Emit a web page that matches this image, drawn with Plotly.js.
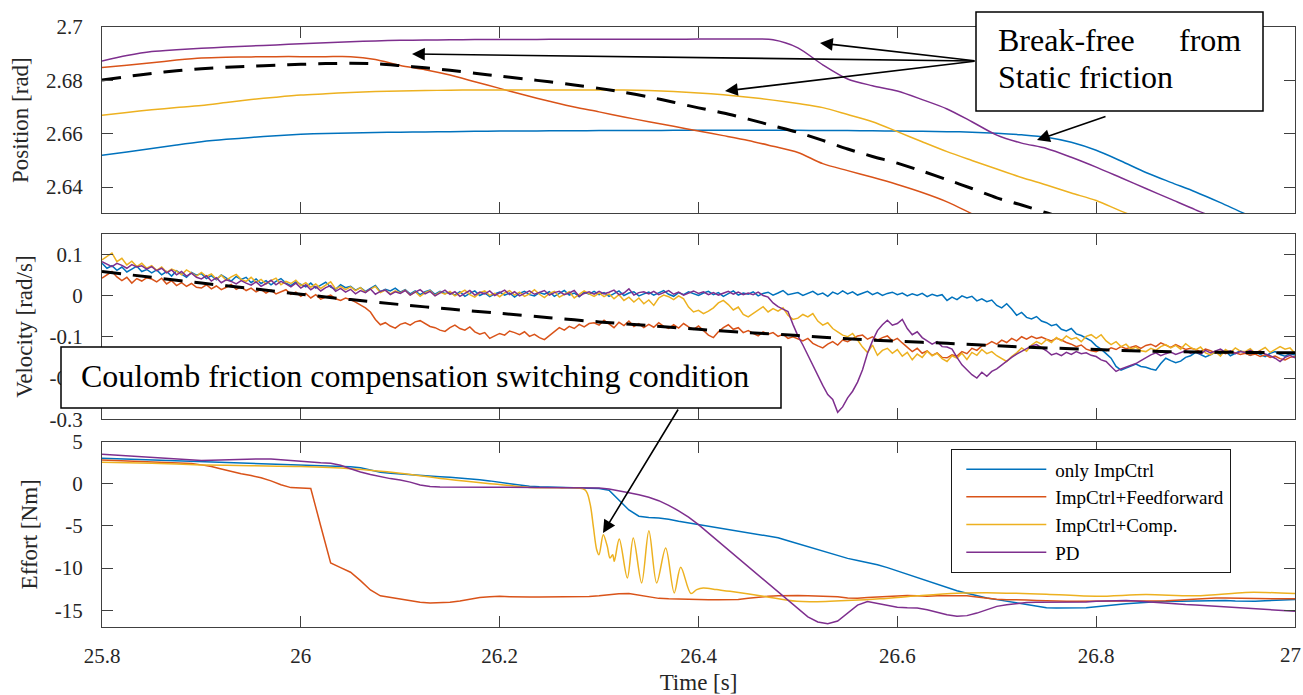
<!DOCTYPE html>
<html><head><meta charset="utf-8">
<script src="https://cdn.plot.ly/plotly-3.0.1.min.js"></script>
<style>html,body{margin:0;padding:0;background:#fff}#chart{width:1303px;height:695px}</style>
</head><body><div id="chart"></div>
<script>
// ---------- labels ----------
const seriesNames = ['only ImpCtrl', 'ImpCtrl+Feedforward', 'ImpCtrl+Comp.', 'PD'];
const seriesColors = ['#0072BD', '#D95319', '#EDB120', '#7E2F8E'];
const xTickVals = [25.8, 26, 26.2, 26.4, 26.6, 26.8, 27];
const xTickText = ['25.8', '26', '26.2', '26.4', '26.6', '26.8', ''];
const xLastTickLabel = '27';
const posTickVals = [2.64, 2.66, 2.68, 2.7];
const posTickText = ['2.64', '2.66', '2.68', '2.7'];
const velTickVals = [-0.3, -0.2, -0.1, 0, 0.1];
const velTickText = ['-0.3', '-0.2', '-0.1', '0', '0.1'];
const effTickVals = [-15, -10, -5, 0, 5];
const effTickText = ['-15', '-10', '-5', '0', '5'];

// sample instants (uniform sampling grids)
function grid(start, step, n) { const a = []; for (let i = 0; i < n; i++) a.push(+(start + step * i).toFixed(4)); return a; }
const posTime = grid(25.8, 0.025, 49);
const velTime = grid(25.8, 0.005, 241);
const effTime = grid(25.8, 0.01, 121);
const velRefTime = grid(25.8, 0.05, 25);

// ---------- Position [rad] ----------
const posBlue = [2.6519,2.6532,2.6545,2.6558,2.6570,2.6579,2.6586,2.6593,2.6598,2.6601,2.6603,2.6605,2.6606,2.6607,2.6608,2.6609,2.6610,2.6610,2.6611,2.6611,2.6612,2.6612,2.6612,2.6613,2.6613,2.6613,2.6613,2.6613,2.6613,2.6612,2.6612,2.6611,2.6610,2.6609,2.6608,2.6606,2.6602,2.6596,2.6587,2.6568,2.6538,2.6498,2.6455,2.6418,2.6382,2.6342,2.6300,2.6262,2.6225];
const posOrange = [2.6848,2.6857,2.6866,2.6876,2.6884,2.6887,2.6888,2.6889,2.6889,2.6889,2.6889,2.6878,2.6856,2.6840,2.6820,2.6795,2.6770,2.6745,2.6722,2.6700,2.6682,2.6663,2.6645,2.6628,2.6610,2.6593,2.6575,2.6553,2.6530,2.6488,2.6462,2.6437,2.6410,2.6380,2.6345,2.6300,2.6255,2.6210,2.6165,2.6120,2.6075,2.6030,2.5985,2.5940,2.5895,2.5850,2.5805,2.5760,2.5715];
const posYellow = [2.6669,2.6680,2.6690,2.6698,2.6706,2.6717,2.6728,2.6737,2.6745,2.6750,2.6755,2.6758,2.6760,2.6762,2.6763,2.6764,2.6764,2.6764,2.6764,2.6764,2.6764,2.6764,2.6762,2.6758,2.6753,2.6746,2.6737,2.6726,2.6713,2.6698,2.6672,2.6645,2.6608,2.6570,2.6533,2.6500,2.6468,2.6436,2.6408,2.6378,2.6350,2.6310,2.6275,2.6245,2.6215,2.6185,2.6155,2.6125,2.6095];
const posPurple = [2.6873,2.6893,2.6908,2.6915,2.6920,2.6925,2.6929,2.6933,2.6937,2.6941,2.6945,2.6948,2.6950,2.6951,2.6952,2.6953,2.6953,2.6953,2.6954,2.6954,2.6954,2.6954,2.6954,2.6954,2.6955,2.6955,2.6955,2.6952,2.6922,2.6858,2.6805,2.6780,2.6760,2.6728,2.6693,2.6645,2.6595,2.6565,2.6545,2.6512,2.6475,2.6435,2.6395,2.6355,2.6315,2.6278,2.6240,2.6205,2.6170];
const posRef = [2.6801,2.6814,2.6826,2.6836,2.6844,2.6849,2.6853,2.6857,2.6860,2.6863,2.6864,2.6862,2.6855,2.6847,2.6838,2.6827,2.6816,2.6805,2.6795,2.6783,2.6770,2.6755,2.6738,2.6718,2.6697,2.6678,2.6655,2.6630,2.6605,2.6575,2.6543,2.6515,2.6490,2.6460,2.6428,2.6395,2.6360,2.6333,2.6304,2.6275,2.6245,2.6215,2.6185,2.6155,2.6125,2.6095,2.6065,2.6035,2.6005];

// ---------- Velocity [rad/s] ----------
const velBlue = [
0.078,0.066,0.072,0.061,0.069,0.057,0.064,0.071,0.058,0.063,
0.055,0.062,0.050,0.058,0.047,0.060,0.052,0.044,0.056,0.049,
0.053,0.041,0.048,0.038,0.050,0.043,0.035,0.046,0.039,0.044,
0.031,0.040,0.029,0.036,0.026,0.034,0.041,0.030,0.024,0.033,
0.027,0.021,0.030,0.018,0.025,0.032,0.020,0.015,0.026,0.019,
0.022,0.013,0.019,0.010,0.017,0.024,0.009,0.015,0.011,0.018,
0.008,0.014,0.004,0.011,0.002,0.009,0.013,0.003,0.010,0.005,
0.007,0.001,0.009,-0.002,0.005,0.011,0.000,0.006,-0.003,0.004,
0.008,0.001,0.006,-0.004,0.005,0.010,0.002,-0.001,0.007,0.003,
0.009,-0.002,0.005,0.012,0.001,0.006,-0.003,0.008,0.003,0.010,
0.002,0.007,-0.002,0.005,0.011,0.000,0.006,0.009,-0.001,0.004,
0.008,0.001,0.006,0.012,0.003,-0.002,0.007,0.002,0.009,0.004,
0.000,0.006,0.010,0.002,0.007,-0.002,0.005,0.011,0.001,0.006,
0.003,0.009,-0.001,0.005,0.008,0.001,0.006,0.012,0.002,0.004,
0.007,0.000,0.005,0.010,0.002,0.006,-0.002,0.008,0.003,0.011,
0.004,0.009,0.001,0.006,0.010,0.002,0.007,0.000,0.005,0.008,
0.002,0.006,-0.001,0.004,0.000,0.005,-0.003,0.003,-0.001,0.002,
-0.012,-0.004,-0.010,-0.001,-0.006,-0.002,-0.013,-0.008,-0.015,-0.011,
-0.024,-0.030,-0.020,-0.033,-0.048,-0.041,-0.053,-0.057,-0.051,-0.062,
-0.066,-0.073,-0.070,-0.082,-0.086,-0.080,-0.093,-0.097,-0.104,-0.110,
-0.122,-0.130,-0.141,-0.152,-0.172,-0.181,-0.176,-0.170,-0.166,-0.172,
-0.174,-0.178,-0.181,-0.165,-0.152,-0.158,-0.163,-0.159,-0.150,-0.146,
-0.138,-0.143,-0.149,-0.144,-0.137,-0.142,-0.135,-0.146,-0.140,-0.134,
-0.139,-0.145,-0.137,-0.142,-0.148,-0.140,-0.136,-0.143,-0.147,-0.141,
-0.144];
const velOrange = [
0.042,0.050,0.058,0.045,0.036,0.044,0.030,0.041,0.035,0.043,
0.040,0.033,0.042,0.028,0.036,0.024,0.031,0.022,0.029,0.020,
0.018,0.026,0.016,0.023,0.014,0.020,0.027,0.015,0.021,0.012,
0.018,0.009,0.015,0.006,0.013,0.004,0.010,0.014,0.003,0.008,
-0.002,0.005,-0.006,0.002,-0.009,-0.003,0.001,-0.008,-0.012,-0.006,
-0.010,-0.016,-0.022,-0.030,-0.040,-0.058,-0.071,-0.066,-0.074,-0.079,
-0.070,-0.066,-0.072,-0.064,-0.061,-0.069,-0.075,-0.078,-0.084,-0.087,
-0.078,-0.072,-0.080,-0.084,-0.076,-0.088,-0.094,-0.090,-0.104,-0.098,
-0.092,-0.096,-0.086,-0.090,-0.095,-0.088,-0.099,-0.094,-0.102,-0.107,
-0.098,-0.088,-0.078,-0.084,-0.075,-0.080,-0.070,-0.076,-0.068,-0.066,
-0.072,-0.060,-0.070,-0.078,-0.065,-0.073,-0.062,-0.075,-0.068,-0.078,
-0.070,-0.077,-0.066,-0.075,-0.080,-0.071,-0.079,-0.068,-0.076,-0.082,
-0.074,-0.085,-0.096,-0.102,-0.088,-0.078,-0.071,-0.082,-0.078,-0.090,
-0.085,-0.092,-0.098,-0.088,-0.094,-0.090,-0.099,-0.094,-0.104,-0.100,
-0.106,-0.110,-0.104,-0.116,-0.122,-0.127,-0.118,-0.112,-0.120,-0.108,
-0.112,-0.104,-0.098,-0.096,-0.106,-0.100,-0.108,-0.102,-0.098,-0.110,
-0.104,-0.115,-0.125,-0.136,-0.128,-0.140,-0.134,-0.145,-0.139,-0.150,
-0.151,-0.144,-0.147,-0.136,-0.141,-0.128,-0.133,-0.122,-0.119,-0.112,
-0.118,-0.108,-0.114,-0.104,-0.110,-0.100,-0.106,-0.099,-0.104,-0.101,
-0.106,-0.110,-0.104,-0.108,-0.114,-0.118,-0.124,-0.120,-0.130,-0.134,
-0.136,-0.130,-0.134,-0.127,-0.131,-0.124,-0.129,-0.126,-0.122,-0.128,
-0.121,-0.118,-0.124,-0.115,-0.120,-0.126,-0.119,-0.125,-0.131,-0.128,
-0.131,-0.136,-0.130,-0.134,-0.139,-0.135,-0.141,-0.137,-0.139,-0.143,
-0.140,-0.145,-0.142,-0.148,-0.144,-0.150,-0.147,-0.153,-0.156,-0.150,
-0.148];
const velYellow = [
0.086,0.095,0.103,0.082,0.090,0.074,0.083,0.070,0.078,0.066,
0.072,0.061,0.069,0.056,0.064,0.059,0.050,0.062,0.054,0.047,
0.056,0.046,0.052,0.040,0.049,0.037,0.045,0.051,0.039,0.034,
0.044,0.032,0.039,0.028,0.036,0.042,0.026,0.034,0.029,0.037,
0.024,0.031,0.020,0.028,0.017,0.025,0.033,0.016,0.022,0.014,
0.021,0.012,0.019,0.008,0.016,0.022,0.007,0.013,0.004,0.011,
0.006,0.013,0.001,0.009,-0.002,0.007,0.012,0.000,0.008,0.003,
0.010,-0.001,0.006,0.013,0.002,-0.004,0.007,0.011,0.000,0.005,
-0.003,0.006,0.012,0.001,0.008,-0.002,0.004,0.014,0.003,-0.005,
0.005,0.010,-0.004,0.003,0.009,-0.006,0.002,0.011,0.004,-0.002,
0.006,-0.003,0.004,-0.008,0.002,-0.012,-0.004,-0.016,-0.006,-0.020,
-0.011,-0.024,-0.006,0.001,-0.003,-0.010,-0.001,-0.008,-0.028,-0.040,
-0.036,-0.044,-0.038,-0.030,-0.018,-0.012,-0.022,-0.035,-0.028,-0.046,
-0.052,-0.044,-0.034,-0.027,-0.040,-0.032,-0.038,-0.030,-0.048,-0.058,
-0.055,-0.046,-0.052,-0.044,-0.062,-0.072,-0.066,-0.080,-0.088,-0.096,
-0.100,-0.092,-0.108,-0.125,-0.138,-0.120,-0.145,-0.133,-0.128,-0.140,
-0.131,-0.147,-0.138,-0.156,-0.142,-0.150,-0.135,-0.146,-0.140,-0.153,
-0.160,-0.146,-0.152,-0.140,-0.155,-0.138,-0.145,-0.131,-0.141,-0.136,
-0.146,-0.152,-0.160,-0.148,-0.139,-0.127,-0.135,-0.120,-0.112,-0.118,
-0.107,-0.114,-0.102,-0.110,-0.098,-0.106,-0.102,-0.112,-0.099,-0.095,
-0.104,-0.095,-0.110,-0.119,-0.112,-0.124,-0.118,-0.130,-0.125,-0.134,
-0.136,-0.128,-0.133,-0.124,-0.119,-0.127,-0.121,-0.130,-0.117,-0.126,
-0.132,-0.125,-0.139,-0.144,-0.136,-0.147,-0.131,-0.138,-0.127,-0.135,
-0.136,-0.129,-0.140,-0.133,-0.126,-0.138,-0.131,-0.124,-0.130,-0.127,
-0.140];
const velPurple = [
0.082,0.076,0.070,0.078,0.073,0.066,0.075,0.069,0.072,0.064,
0.070,0.060,0.066,0.055,0.062,0.050,0.058,0.047,0.054,0.044,
0.040,0.048,0.035,0.043,0.031,0.038,0.034,0.028,0.036,0.030,
0.025,0.033,0.022,0.029,0.037,0.026,0.034,0.028,0.021,0.030,
0.018,0.026,0.014,0.022,0.011,0.019,0.024,0.010,0.017,0.008,
0.015,0.004,0.012,0.007,0.016,0.003,0.010,0.013,0.002,0.009,
0.005,0.012,0.001,0.008,0.014,0.004,0.010,-0.001,0.007,0.013,
0.003,0.009,-0.002,0.006,0.012,0.001,0.008,0.004,0.011,0.000,
0.007,0.013,0.002,0.009,-0.001,0.006,0.011,0.003,0.008,0.012,
0.001,0.007,0.010,0.002,0.006,0.012,-0.002,0.005,0.009,0.003,
0.010,0.004,0.008,0.013,0.002,0.006,0.016,0.001,0.007,0.009,
0.004,0.010,0.002,0.007,0.012,0.003,0.008,0.001,0.006,0.011,
0.005,0.009,0.002,0.007,0.001,0.006,0.010,0.003,0.008,0.002,
0.006,0.002,0.008,0.000,-0.004,-0.018,-0.027,-0.033,-0.039,-0.070,
-0.098,-0.120,-0.145,-0.172,-0.196,-0.218,-0.240,-0.252,-0.283,-0.270,
-0.248,-0.232,-0.210,-0.180,-0.140,-0.110,-0.085,-0.071,-0.060,-0.072,
-0.068,-0.058,-0.080,-0.095,-0.088,-0.102,-0.110,-0.118,-0.112,-0.124,
-0.125,-0.130,-0.150,-0.168,-0.180,-0.192,-0.200,-0.186,-0.196,-0.184,
-0.178,-0.168,-0.160,-0.150,-0.142,-0.136,-0.128,-0.122,-0.119,-0.126,
-0.134,-0.144,-0.140,-0.146,-0.138,-0.143,-0.136,-0.141,-0.139,-0.145,
-0.148,-0.156,-0.160,-0.172,-0.184,-0.178,-0.174,-0.170,-0.165,-0.158,
-0.150,-0.144,-0.139,-0.146,-0.141,-0.137,-0.143,-0.139,-0.134,-0.140,
-0.136,-0.142,-0.133,-0.139,-0.135,-0.130,-0.138,-0.134,-0.141,-0.136,
-0.138,-0.133,-0.140,-0.135,-0.142,-0.146,-0.152,-0.160,-0.150,-0.145,
-0.151];
const velRef = [0.058,0.044,0.030,0.017,0.003,-0.010,-0.022,-0.033,-0.043,-0.054,-0.064,-0.073,-0.082,-0.090,-0.097,-0.105,-0.111,-0.116,-0.122,-0.127,-0.131,-0.135,-0.137,-0.138,-0.139];

// ---------- Effort [Nm] ----------
const effBlue = [3.04,3.00,2.96,2.92,2.88,2.84,2.80,2.76,2.72,2.68,2.65,2.62,2.58,2.54,2.50,2.45,2.40,2.36,2.32,2.28,2.25,2.21,2.17,2.13,2.10,2.04,1.92,1.62,1.38,1.25,1.15,1.08,1.00,0.92,0.84,0.78,0.70,0.60,0.48,0.35,0.18,0.02,-0.15,-0.30,-0.36,-0.40,-0.42,-0.43,-0.44,-0.48,-0.55,-0.75,-1.9,-3.1,-3.85,-4.0,-4.05,-4.2,-4.45,-4.65,-4.85,-5.05,-5.25,-5.45,-5.68,-5.88,-6.08,-6.25,-6.40,-6.75,-7.10,-7.45,-7.85,-8.18,-8.5,-8.85,-9.1,-9.35,-9.6,-9.95,-10.35,-10.75,-11.15,-11.55,-11.95,-12.35,-12.7,-13.0,-13.3,-13.55,-13.75,-13.95,-14.15,-14.35,-14.55,-14.7,-14.75,-14.75,-14.75,-14.72,-14.6,-14.45,-14.35,-14.25,-14.15,-14.05,-14.0,-13.97,-13.95,-13.93,-13.9,-13.86,-13.83,-13.85,-13.9,-13.95,-13.93,-13.88,-13.82,-13.78,-13.74];
const effOrange = [2.84,2.80,2.76,2.72,2.68,2.64,2.60,2.55,2.50,2.40,2.25,2.05,1.75,1.45,1.20,0.98,0.72,0.35,-0.10,-0.45,-0.50,-0.55,-5.0,-9.4,-9.95,-10.5,-11.5,-12.6,-13.3,-13.5,-13.62,-13.85,-14.05,-14.14,-14.12,-14.06,-13.9,-13.7,-13.5,-13.4,-13.35,-13.4,-13.45,-13.45,-13.43,-13.43,-13.42,-13.43,-13.42,-13.38,-13.3,-13.15,-13.05,-13.03,-13.2,-13.45,-13.6,-13.66,-13.7,-13.72,-13.74,-13.75,-13.75,-13.74,-13.72,-13.6,-13.45,-13.35,-13.3,-13.27,-13.27,-13.3,-13.35,-13.35,-13.4,-13.55,-13.6,-13.5,-13.45,-13.35,-13.3,-13.27,-13.3,-13.35,-13.3,-13.27,-13.27,-13.3,-13.45,-13.6,-13.7,-13.75,-13.75,-13.8,-13.85,-13.9,-13.93,-13.95,-13.95,-13.95,-13.95,-13.95,-13.95,-13.95,-13.95,-13.95,-13.92,-13.88,-13.83,-13.75,-13.65,-13.58,-13.55,-13.55,-13.58,-13.62,-13.65,-13.66,-13.66,-13.66,-13.66];
const effPurple = [3.52,3.45,3.38,3.32,3.25,3.16,3.08,3.00,2.92,2.84,2.78,2.80,2.84,2.88,2.92,2.95,2.96,2.95,2.85,2.72,2.62,2.55,2.50,2.45,2.20,1.80,1.40,1.10,0.85,0.62,0.45,0.20,-0.15,-0.32,-0.38,-0.40,-0.40,-0.40,-0.40,-0.40,-0.40,-0.41,-0.41,-0.41,-0.42,-0.42,-0.42,-0.43,-0.44,-0.45,-0.50,-0.62,-0.80,-1.05,-1.30,-1.60,-2.00,-2.55,-3.20,-3.95,-4.85,-5.85,-6.85,-7.90,-8.90,-9.90,-10.90,-11.90,-12.90,-13.90,-14.85,-15.80,-16.40,-16.60,-16.30,-15.30,-14.40,-13.98,-14.20,-14.50,-14.65,-14.72,-14.75,-14.95,-15.25,-15.55,-15.72,-15.65,-15.35,-14.95,-14.55,-14.35,-14.20,-14.10,-14.06,-14.05,-14.05,-14.06,-14.06,-14.02,-13.95,-13.90,-13.87,-13.86,-13.90,-14.00,-14.12,-14.22,-14.30,-14.34,-14.40,-14.48,-14.55,-14.60,-14.65,-14.75,-14.85,-14.95,-15.05,-15.10,-15.13];
const effYellowTime = [25.80,25.85,25.90,25.95,26.00,26.05,26.10,26.15,26.20,26.23,26.26,26.2858,26.2908,26.2942,26.2976,26.2999,26.3042,26.3083,26.311,26.3137,26.3153,26.3203,26.3284,26.3344,26.3428,26.3501,26.3579,26.367,26.3756,26.3821,26.3924,26.3982,26.4048,26.4182,26.4317,26.4652,26.4988,26.5323,26.5825,26.62,26.66,26.70,26.75,26.80,26.85,26.90,26.95,26.97,27.00];
const effYellow = [2.57,2.45,2.25,2.15,2.05,1.80,1.27,0.50,-0.08,-0.43,-0.48,-0.71,-2.29,-5.06,-7.82,-8.41,-6.04,-7.43,-8.81,-8.41,-9.20,-6.56,-11.18,-6.44,-11.77,-5.57,-11.77,-7.62,-12.95,-9.91,-13.03,-12.56,-12.36,-12.56,-12.76,-13.35,-13.95,-13.95,-13.66,-13.3,-13.0,-12.95,-13.1,-13.35,-13.15,-13.3,-12.9,-12.9,-13.03];

// ---------- annotation texts ----------
const breakFreeLine1a = 'Break-free';
const breakFreeLine1b = 'from';
const breakFreeLine2 = 'Static friction';
const coulombText = 'Coulomb friction compensation switching condition';

// ---------- build ----------
const FONT = "'Liberation Serif', 'Times New Roman', Times, serif";
const TXT = '#262626';
const LINE = '#404040';
const posSeries = [posBlue, posOrange, posYellow, posPurple];
const velSeries = [velBlue, velOrange, velYellow, velPurple];
const effSeries = [effBlue, effOrange, effYellow, effPurple];
const effTimes = [effTime, effTime, effYellowTime, effTime];

const traces = [];
for (let k = 0; k < 4; k++) {
  traces.push({x: posTime, y: posSeries[k], xaxis: 'x', yaxis: 'y', type: 'scatter', mode: 'lines',
    line: {color: seriesColors[k], width: 1.5, shape: 'spline', smoothing: 0.8}, name: seriesNames[k], legendgroup: 'g' + k, showlegend: false});
}
traces.push({x: posTime, y: posRef, xaxis: 'x', yaxis: 'y', type: 'scatter', mode: 'lines',
  line: {color: '#000', width: 3, dash: '19px,12px', shape: 'spline', smoothing: 0.8}, showlegend: false, name: 'ref'});
for (let k = 0; k < 4; k++) {
  traces.push({x: velTime, y: velSeries[k], xaxis: 'x2', yaxis: 'y2', type: 'scatter', mode: 'lines',
    line: {color: seriesColors[k], width: 1.5}, name: seriesNames[k], legendgroup: 'g' + k, showlegend: false});
}
traces.push({x: velRefTime, y: velRef, xaxis: 'x2', yaxis: 'y2', type: 'scatter', mode: 'lines',
  line: {color: '#000', width: 3, dash: '19px,12px', shape: 'spline', smoothing: 0.8}, showlegend: false, name: 'ref'});
for (let k = 0; k < 4; k++) {
  traces.push({x: effTimes[k], y: effSeries[k], xaxis: 'x3', yaxis: 'y3', type: 'scatter', mode: 'lines',
    line: {color: seriesColors[k], width: 1.5, shape: k === 2 ? 'spline' : 'linear', smoothing: 0.9}, name: seriesNames[k], legendgroup: 'g' + k, showlegend: true});
}

function tickFont() { return {family: FONT, size: 21, color: TXT}; }
function titleFont() { return {family: FONT, size: 23, color: TXT}; }
function xAx(extra) {
  return Object.assign({range: [25.8, 27], tickmode: 'array', tickvals: xTickVals, ticktext: xTickText,
    ticks: 'inside', ticklen: 11, tickwidth: 1, tickcolor: LINE, showline: true, linecolor: LINE, linewidth: 1,
    mirror: 'ticks', showgrid: false, zeroline: false, tickfont: tickFont(), fixedrange: true}, extra);
}
function yAx(extra) {
  return Object.assign({tickmode: 'array', ticks: 'inside', ticklen: 11, tickwidth: 1, tickcolor: LINE,
    showline: true, linecolor: LINE, linewidth: 1, mirror: 'ticks', showgrid: false, zeroline: false,
    tickfont: tickFont(), ticklabelstandoff: 14, ticklabeloverflow: 'allow', fixedrange: true}, extra);
}
function px(x) { return (x - 102) / 1193; }
function py(y) { return (627 - y) / 600; }

const layout = {
  width: 1303, height: 695,
  margin: {l: 102, r: 8, t: 27, b: 68},
  paper_bgcolor: '#fff', plot_bgcolor: '#fff',
  font: {family: FONT, color: TXT},
  showlegend: true,
  xaxis: xAx({anchor: 'y', showticklabels: false}),
  xaxis2: xAx({anchor: 'y2', matches: 'x', showticklabels: false}),
  xaxis3: xAx({anchor: 'y3', matches: 'x', title: {text: 'Time [s]', font: titleFont(), standoff: 6}, ticklabelstandoff: 10}),
  yaxis: yAx({domain: [0.6895, 1], range: [2.6302, 2.70], tickvals: posTickVals, ticktext: posTickText,
    title: {text: 'Position [rad]', font: titleFont(), standoff: 10}}),
  yaxis2: yAx({domain: [0.3462, 0.655], range: [-0.3, 0.149], tickvals: velTickVals, ticktext: velTickText,
    title: {text: 'Velocity [rad/s]', font: titleFont(), standoff: 10}}),
  yaxis3: yAx({domain: [0, 0.3088], range: [-17, 5], tickvals: effTickVals, ticktext: effTickText,
    title: {text: 'Effort [Nm]', font: titleFont(), standoff: 10}}),
  legend: {x: px(951), y: py(449), xanchor: 'left', yanchor: 'top', bgcolor: '#fff', bordercolor: '#1a1a1a', borderwidth: 1.3,
    font: {family: FONT, size: 19, color: '#000'}, itemwidth: 93, tracegroupgap: 0},
  shapes: [
    {type: 'rect', xref: 'paper', yref: 'paper', x0: px(976), x1: px(1263), y0: py(111), y1: py(12),
      fillcolor: '#fff', line: {color: '#000', width: 1.5}, layer: 'above'},
    {type: 'rect', xref: 'paper', yref: 'paper', x0: px(61), x1: px(781), y0: py(408), y1: py(347),
      fillcolor: '#fff', line: {color: '#000', width: 1.5}, layer: 'above'}
  ],
  annotations: [
    {xref: 'paper', yref: 'paper', x: px(996), y: py(40), xanchor: 'left', yanchor: 'middle', showarrow: false,
      text: breakFreeLine1a, font: {family: FONT, size: 32, color: '#000'}},
    {xref: 'paper', yref: 'paper', x: px(1243), y: py(40), xanchor: 'right', yanchor: 'middle', showarrow: false,
      text: breakFreeLine1b, font: {family: FONT, size: 32, color: '#000'}},
    {xref: 'paper', yref: 'paper', x: px(996), y: py(77), xanchor: 'left', yanchor: 'middle', showarrow: false,
      text: breakFreeLine2, font: {family: FONT, size: 32, color: '#000'}},
    {xref: 'paper', yref: 'paper', x: px(79), y: py(376), xanchor: 'left', yanchor: 'middle', showarrow: false,
      text: coulombText, font: {family: FONT, size: 32, color: '#000'}},
    // last x tick label, kept inside the page edge
    {xref: 'paper', yref: 'paper', x: px(1302), y: py(655), xanchor: 'right', yanchor: 'middle', showarrow: false,
      text: xLastTickLabel, font: {family: FONT, size: 21, color: TXT}, borderpad: 0},
    // arrows (tip in paper coords, tail offset in px)
    {xref: 'paper', yref: 'paper', x: px(820), y: py(43), ax: 156, ay: 18, showarrow: true, text: '', arrowhead: 2, arrowsize: 1.6, arrowwidth: 1.6, arrowcolor: '#000'},
    {xref: 'paper', yref: 'paper', x: px(412), y: py(54), ax: 564, ay: 7, showarrow: true, text: '', arrowhead: 2, arrowsize: 1.6, arrowwidth: 1.6, arrowcolor: '#000'},
    {xref: 'paper', yref: 'paper', x: px(725), y: py(91), ax: 251, ay: -30, showarrow: true, text: '', arrowhead: 2, arrowsize: 1.6, arrowwidth: 1.6, arrowcolor: '#000'},
    {xref: 'paper', yref: 'paper', x: px(1037), y: py(140), ax: 70, ay: -24, showarrow: true, text: '', arrowhead: 2, arrowsize: 1.6, arrowwidth: 1.6, arrowcolor: '#000'},
    {xref: 'paper', yref: 'paper', x: px(603), y: py(533), ax: 76, ay: -125, showarrow: true, text: '', arrowhead: 2, arrowsize: 1.6, arrowwidth: 1.6, arrowcolor: '#000'}
  ]
};

Plotly.newPlot('chart', traces, layout, {displayModeBar: false, staticPlot: true}).then(function (gd) {
  // lengthen legend line samples to match the original figure
  gd.querySelectorAll('.legend .legendlines path').forEach(function (p) { p.setAttribute('d', 'M14,0h80'); });
});
</script>
</body></html>
